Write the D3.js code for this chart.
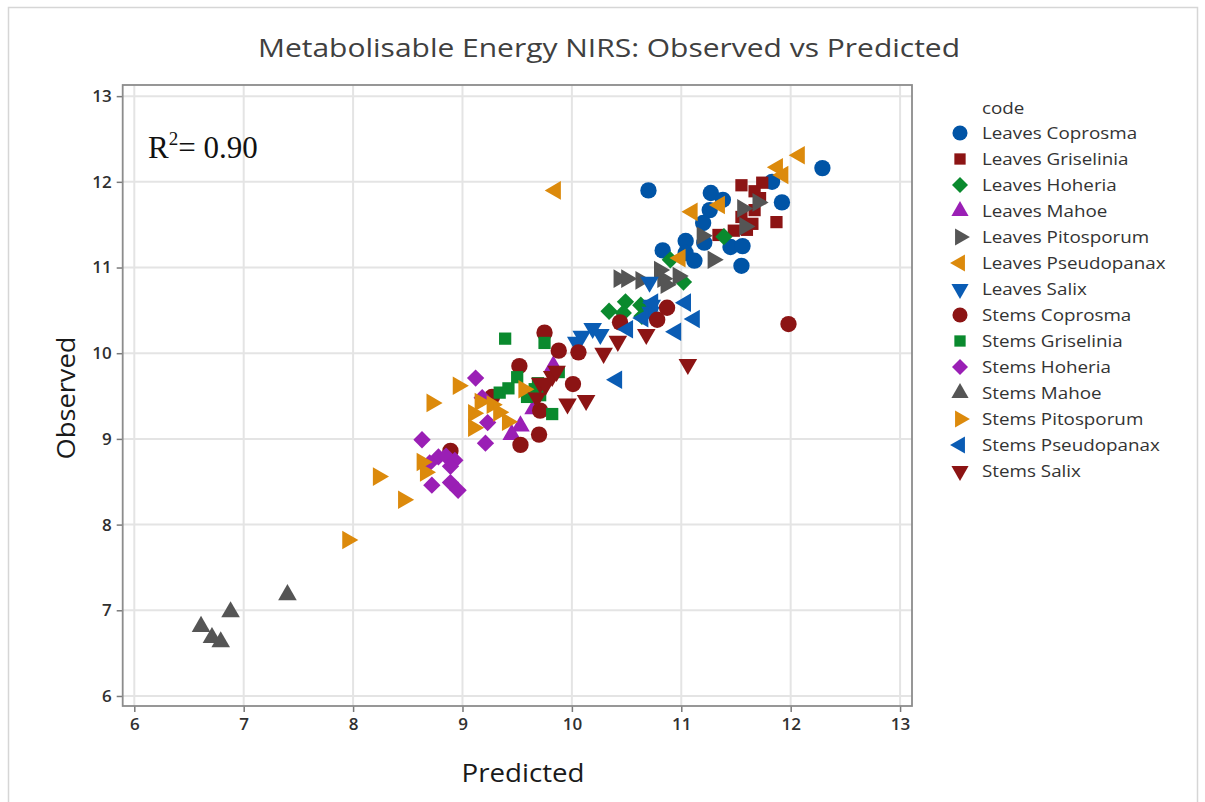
<!DOCTYPE html>
<html>
<head>
<meta charset="utf-8">
<script src="https://cdn.jsdelivr.net/npm/d3@7"></script>
<style>
  html, body { margin: 0; padding: 0; background: #fff; }
  svg { display: block; }
</style>
</head>
<body>
<svg id="chart" width="1205" height="802"></svg>
<script>
// Series names (legend order) with colours and marker shapes
const seriesNames = [
  "Leaves Coprosma", "Leaves Griselinia", "Leaves Hoheria", "Leaves Mahoe",
  "Leaves Pitosporum", "Leaves Pseudopanax", "Leaves Salix",
  "Stems Coprosma", "Stems Griselinia", "Stems Hoheria", "Stems Mahoe",
  "Stems Pitosporum", "Stems Pseudopanax", "Stems Salix"
];
const seriesColors = [
  "#0054a6", "#8c1414", "#0a8a2e", "#9a1fb5", "#555555", "#dc8a0c", "#0a5cb4",
  "#8c1414", "#0a8a2e", "#9a1fb5", "#555555", "#dc8a0c", "#0a5cb4", "#8c1414"
];
const seriesShapes = [
  "circle", "square", "diamond", "up", "right", "left", "down",
  "circle", "square", "diamond", "up", "right", "left", "down"
];

// [predicted, observed] pairs for each series
const leavesCoprosma = [[10.70,11.90],[11.27,11.87],[11.38,11.79],[11.26,11.67],[11.20,11.52],
  [11.04,11.31],[11.21,11.29],[10.83,11.20],[11.45,11.24],[11.56,11.25],[11.55,11.02],
  [11.92,11.76],[11.83,12.00],[12.29,12.16],[11.04,11.17],[11.12,11.08]];
const leavesGriselinia = [[11.55,11.96],[11.74,11.99],[11.67,11.89],[11.72,11.81],[11.67,11.67],
  [11.55,11.59],[11.65,11.51],[11.87,11.53],[11.34,11.38],[11.48,11.43],[11.60,11.44]];
const leavesHoheria = [[11.39,11.36],[10.90,11.09],[11.02,10.83],[10.34,10.49],[10.49,10.60],
  [10.47,10.47],[10.63,10.56],[10.64,10.43]];
const leavesMahoe = [[9.53,9.15],[9.45,9.05],[9.65,9.35],[9.83,9.85]];
const leavesPitosporum = [[10.43,10.87],[10.50,10.87],[10.63,10.85],[10.80,10.97],[10.83,10.87],
  [10.97,10.90],[10.86,10.80],[11.19,11.37],[11.29,11.09],[11.56,11.69],[11.70,11.76],[11.58,11.48]];
const leavesPseudopanax = [[12.08,12.31],[11.88,12.17],[11.93,12.08],[11.10,11.65],[11.35,11.73],
  [10.99,11.11],[9.85,11.90]];
const leavesSalix = [[10.71,10.83],[10.73,10.56],[10.72,10.48],[10.19,10.29],[10.26,10.22],
  [10.09,10.20],[10.04,10.13]];
const stemsCoprosma = [[11.98,10.34],[9.75,10.24],[9.88,10.03],[10.06,10.01],[9.52,9.85],
  [10.01,9.64],[9.27,9.49],[9.71,9.33],[9.70,9.05],[9.53,8.93],[8.89,8.86],[10.44,10.36],
  [10.78,10.39],[10.87,10.53]];
const stemsGriselinia = [[9.39,10.17],[9.75,10.12],[9.50,9.72],[9.34,9.54],[9.42,9.59],
  [9.59,9.49],[9.66,9.58],[9.71,9.51],[9.88,9.78],[9.82,9.29],[9.69,9.65]];
const stemsHoheria = [[9.12,9.71],[9.23,9.19],[9.21,8.95],[8.63,8.99],[8.72,8.46],[8.78,8.79],
  [8.85,8.80],[8.93,8.75],[8.89,8.68],[8.89,8.49],[8.96,8.40],[8.70,8.72],[9.18,9.48]];
const stemsMahoe = [[6.61,6.81],[6.71,6.68],[6.79,6.63],[6.88,6.98],[7.40,7.18]];
const stemsPitosporum = [[7.95,7.82],[8.23,8.56],[8.46,8.29],[8.72,9.42],[8.63,8.73],[8.66,8.61],
  [8.96,9.62],[9.10,9.30],[9.10,9.13],[9.16,9.43],[9.27,9.40],[9.33,9.31],[9.41,9.20],[9.56,9.58]];
const stemsPseudopanax = [[10.74,10.59],[10.65,10.41],[10.51,10.28],[11.04,10.59],[11.12,10.40],
  [10.95,10.25],[10.41,9.69]];
const stemsSalix = [[10.29,10.00],[10.42,10.14],[10.68,10.22],[11.06,9.87],[9.96,9.41],
  [10.13,9.45],[9.71,9.65],[9.82,9.73],[9.86,9.79],[9.68,9.48],[9.76,9.63]];

const seriesData = [leavesCoprosma, leavesGriselinia, leavesHoheria, leavesMahoe,
  leavesPitosporum, leavesPseudopanax, leavesSalix, stemsCoprosma, stemsGriselinia,
  stemsHoheria, stemsMahoe, stemsPitosporum, stemsPseudopanax, stemsSalix];

const xTicks = [6, 7, 8, 9, 10, 11, 12, 13];
const yTicks = [6, 7, 8, 9, 10, 11, 12, 13];

const titleText = "Metabolisable Energy NIRS: Observed vs Predicted";
const xTitle = "Predicted";
const yTitle = "Observed";
const legendTitle = "code";
const r2Value = "0.90";

// ---- drawing ----
const svg = d3.select("#chart");
const plot = { left: 122.7, right: 912, top: 85, bottom: 706 };
const sans = "'Open Sans', sans-serif";

const x = d3.scaleLinear().domain([5.894, 13.109]).range([plot.left, plot.right]);
const y = d3.scaleLinear().domain([5.883, 13.13]).range([plot.bottom, plot.top]);

// outer frame
svg.append("rect").attr("x", 8.5).attr("y", 7.5).attr("width", 1189).attr("height", 800)
  .attr("fill", "none").attr("stroke", "#d6d6d6").attr("stroke-width", 1.5);

// title (slightly widened lettering)
svg.append("text").attr("x", 258).attr("y", 57)
  .attr("font-family", sans).attr("font-size", 26)
  .attr("textLength", 702).attr("lengthAdjust", "spacingAndGlyphs")
  .attr("fill", "#404040").text(titleText);

// gridlines
const grid = svg.append("g");
grid.selectAll("line.gx").data(xTicks).join("line")
  .attr("x1", d => x(d)).attr("x2", d => x(d))
  .attr("y1", plot.top).attr("y2", plot.bottom)
  .attr("stroke", "#e4e4e4").attr("stroke-width", 2);
grid.selectAll("line.gy").data(yTicks).join("line")
  .attr("y1", d => y(d)).attr("y2", d => y(d))
  .attr("x1", plot.left).attr("x2", plot.right)
  .attr("stroke", "#e4e4e4").attr("stroke-width", 2);

// axes
const xAxis = svg.append("g").attr("transform", `translate(0,${plot.bottom})`)
  .call(d3.axisBottom(x).tickValues(xTicks).tickSize(6).tickPadding(6).tickFormat(d3.format("d")));
const yAxis = svg.append("g").attr("transform", `translate(${plot.left},0)`)
  .call(d3.axisLeft(y).tickValues(yTicks).tickSize(6).tickPadding(5).tickFormat(d3.format("d")));
[xAxis, yAxis].forEach(a => {
  a.select(".domain").remove();
  a.selectAll(".tick line").attr("stroke", "#7a7a7a").attr("stroke-width", 1.5);
  a.selectAll(".tick text").attr("font-family", sans).attr("font-size", 17)
    .attr("font-weight", 600).attr("fill", "#303030");
});

// plot frame
svg.append("rect").attr("x", plot.left).attr("y", plot.top)
  .attr("width", plot.right - plot.left).attr("height", plot.bottom - plot.top)
  .attr("fill", "none").attr("stroke", "#8c8c8c").attr("stroke-width", 1.8);

// axis titles
svg.append("text").attr("x", 523).attr("y", 782).attr("text-anchor", "middle")
  .attr("font-family", sans).attr("font-size", 26)
  .attr("textLength", 123).attr("lengthAdjust", "spacingAndGlyphs")
  .attr("fill", "#1a1a1a").text(xTitle);
svg.append("text").attr("transform", "translate(75,398) rotate(-90)").attr("text-anchor", "middle")
  .attr("font-family", sans).attr("font-size", 26)
  .attr("textLength", 123).attr("lengthAdjust", "spacingAndGlyphs")
  .attr("fill", "#1a1a1a").text(yTitle);

// R-squared annotation
const r2 = svg.append("text").attr("x", 148).attr("y", 158)
  .attr("font-family", "'Liberation Serif', 'Times New Roman', serif").attr("font-size", 31)
  .attr("fill", "#111");
r2.append("tspan").text("R");
r2.append("tspan").attr("dy", -13).attr("font-size", 19).text("2");
r2.append("tspan").attr("dy", 13).text("= " + r2Value);

// marker generator
const sizes = { circle: 210, square: 150, diamond: 150, up: 150, right: 150, left: 150, down: 150 };
function markerPath(shape, scale = 1) {
  const type = shape === "circle" ? d3.symbolCircle
    : (shape === "square" || shape === "diamond") ? d3.symbolSquare
    : d3.symbolTriangle;
  return d3.symbol().type(type).size(sizes[shape] * scale)();
}
const rotation = { circle: 0, square: 0, diamond: 45, up: 0, right: 90, left: -90, down: 180 };

// points
const pts = svg.append("g");
seriesData.forEach((data, i) => {
  const shape = seriesShapes[i];
  pts.append("g").selectAll("path").data(data).join("path")
    .attr("d", markerPath(shape))
    .attr("transform", d => `translate(${x(d[0])},${y(d[1])}) rotate(${rotation[shape]})`)
    .attr("fill", seriesColors[i]);
});

// legend
const legend = svg.append("g").attr("transform", "translate(960,0)");
legend.append("text").attr("transform", "translate(22,114) scale(1.14,1)")
  .attr("font-family", sans).attr("font-size", 16.5)
  .attr("fill", "#333").text(legendTitle);
seriesNames.forEach((name, i) => {
  const cy = 133 + i * 26;
  const shape = seriesShapes[i];
  legend.append("path").attr("d", markerPath(shape, 0.85))
    .attr("transform", `translate(0,${cy}) rotate(${rotation[shape]})`)
    .attr("fill", seriesColors[i]);
  legend.append("text").attr("transform", `translate(22,${cy + 6}) scale(1.14,1)`)
    .attr("font-family", sans).attr("font-size", 16.5)
    .attr("fill", "#333").text(name);
});
</script>
</body>
</html>
